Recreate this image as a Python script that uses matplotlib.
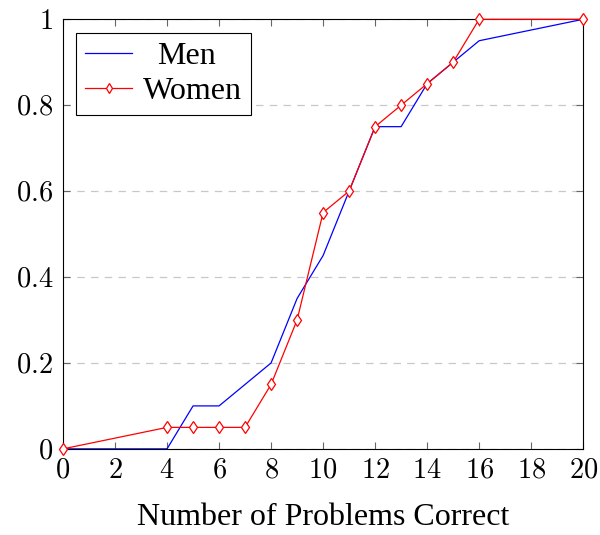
import matplotlib
matplotlib.use("Agg")
import matplotlib.pyplot as plt

plt.rcParams['font.family'] = ['Liberation Serif', 'DejaVu Serif']
plt.rcParams['mathtext.fontset'] = 'cm'

# data
men_x = [0, 4, 5, 6, 8, 9, 10, 11, 12, 13, 14, 15, 16, 20]
men_y = [0, 0, 0.1, 0.1, 0.2, 0.35, 0.45, 0.6, 0.75, 0.75, 0.85, 0.9, 0.95, 1.0]
women_x = [0, 4, 5, 6, 7, 8, 9, 10, 11, 12, 13, 14, 15, 16, 20]
women_y = [0, 0.05, 0.05, 0.05, 0.05, 0.15, 0.3, 0.55, 0.6, 0.75, 0.8, 0.85, 0.9, 1.0, 1.0]
x_ticks = list(range(0, 21, 2))
y_ticks = [0, 0.2, 0.4, 0.6, 0.8, 1]
y_labels = ["0", "0.2", "0.4", "0.6", "0.8", "1"]

fig = plt.figure(figsize=(6, 5.35), dpi=100)
ax = fig.add_axes([0.105, 0.161, 0.867, 0.803])

ax.plot(men_x, men_y, color="blue", lw=0.9, label="Men", clip_on=False)
ax.plot(women_x, women_y, color="red", lw=0.9, marker="d", markersize=6,
        markerfacecolor="white", markeredgecolor="red", markeredgewidth=0.9,
        label="Women", clip_on=False, zorder=3)

ax.set_xlim(0, 20)
ax.set_ylim(0, 1)
ax.set_xticks(x_ticks)
ax.set_xticklabels(["$%d$" % v for v in x_ticks])
ax.set_yticks(y_ticks)
ax.set_yticklabels(["$%s$" % s for s in y_labels])
ax.tick_params(direction="in", top=True, right=True, labelsize=20.5,
               color="#666666", length=5, width=0.8, pad=7)
ax.yaxis.grid(True, linestyle=(0, (6, 5)), color="#c8c8c8", lw=0.9)
ax.set_axisbelow(True)
for s in ax.spines.values():
    s.set_linewidth(0.8)

ax.set_xlabel("Number of Problems Correct", fontsize=23, labelpad=14)

leg = ax.legend(loc="upper left", fontsize=23, frameon=True, fancybox=False,
                edgecolor="black", framealpha=1, borderpad=0.28,
                handlelength=1.45, handletextpad=0.35, labelspacing=0.18,
                borderaxespad=0.42, markerscale=0.8)
leg.get_frame().set_linewidth(0.8)
# pgfplots centres legend entries; nudge "Men" to the middle
leg.get_texts()[0].set_x(14)

fig.savefig("out.png", dpi=100)
